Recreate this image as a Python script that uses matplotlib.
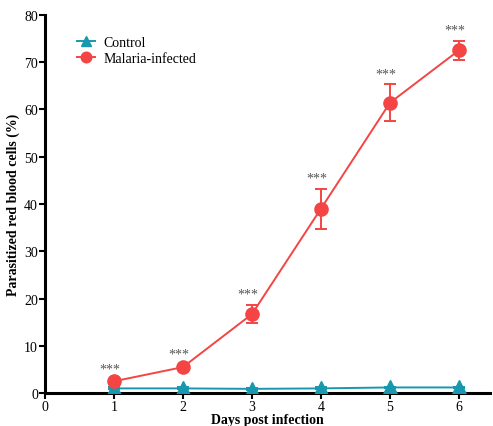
import numpy as np
import matplotlib.pyplot as plt

plt.rcParams['font.family'] = ['Liberation Serif', 'DejaVu Serif']

days = [1, 2, 3, 4, 5, 6]
control = [1.0, 1.0, 0.9, 1.0, 1.2, 1.2]
control_err = [0.2, 0.2, 0.2, 0.2, 0.2, 0.2]
infected = [2.5, 5.5, 16.7, 39.0, 61.4, 72.5]
infected_err = [0.4, 0.5, 1.9, 4.2, 3.9, 2.0]
signif = ['***'] * 6

red = '#f44444'
teal = '#1798ae'

fig = plt.figure(figsize=(4.93, 4.27), dpi=100)
ax = fig.add_axes([0.091, 0.077, 0.903, 0.886])

# error bars first, then the lines with markers (these carry the legend)
ax.errorbar(days, control, yerr=control_err, fmt='none', ecolor=teal,
            capsize=4, elinewidth=1.4, capthick=1.4, zorder=2)
ax.errorbar(days, infected, yerr=infected_err, fmt='none', ecolor=red,
            capsize=4, elinewidth=1.4, capthick=1.4, zorder=3)
ax.plot(days, control, color=teal, marker='^', markersize=9.5, linewidth=1.4,
        label='Control', zorder=3)
ax.plot(days, infected, color=red, marker='o', markersize=9.5, linewidth=1.4,
        label='Malaria-infected', zorder=4)

for d, v, e, s in zip(days, infected, infected_err, signif):
    ax.annotate(s, (d, v + e), xytext=(-3, 3), textcoords='offset points',
                ha='center', va='bottom', color='#555555', fontsize=10)

ax.set_xlim(0, 6.45)
ax.set_ylim(0, 80)
ax.set_xticks(range(0, 7))
ax.set_yticks(range(0, 81, 10))
ax.spines['top'].set_visible(False)
ax.spines['right'].set_visible(False)
for sp in ['left', 'bottom']:
    ax.spines[sp].set_linewidth(2.2)
ax.tick_params(direction='out', length=4, width=1.5, labelsize=10, pad=1)

ax.set_xlabel('Days post infection', fontsize=10, fontweight='bold', labelpad=0)
ax.set_ylabel('Parasitized red blood cells (%)', fontsize=10, fontweight='bold', labelpad=3)

ax.legend(loc='upper left', bbox_to_anchor=(0.072, 0.945), frameon=False, fontsize=10,
          handlelength=1.3, handletextpad=0.6, labelspacing=0.25, markerscale=0.8,
          borderaxespad=0, borderpad=0)

fig.savefig('out.png', dpi=100)
